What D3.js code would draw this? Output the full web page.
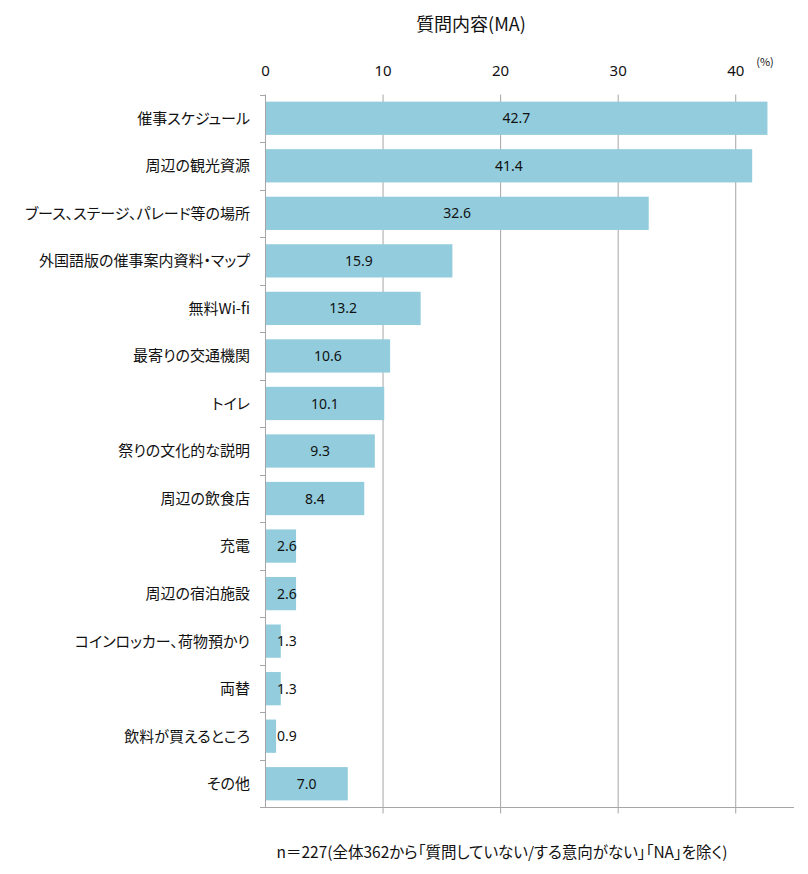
<!DOCTYPE html>
<html lang="ja">
<head>
<meta charset="UTF-8">
<title>質問内容(MA)</title>
<script src="https://d3js.org/d3.v7.min.js"></script>
<style>
  body { margin: 0; background: #fff; }
  text { font-family: "Noto Sans CJK JP", "Noto Sans", sans-serif; fill: #111; font-feature-settings: "palt"; }
</style>
</head>
<body>
<div id="chart"></div>
<script>
// data
const categories = [
  "催事スケジュール", "周辺の観光資源", "ブース、ステージ、パレード等の場所",
  "外国語版の催事案内資料・マップ", "無料Wi-fi", "最寄りの交通機関", "トイレ",
  "祭りの文化的な説明", "周辺の飲食店", "充電", "周辺の宿泊施設",
  "コインロッカー、荷物預かり", "両替", "飲料が買えるところ", "その他"
];
const values = [42.7, 41.4, 32.6, 15.9, 13.2, 10.6, 10.1, 9.3, 8.4, 2.6, 2.6, 1.3, 1.3, 0.9, 7.0];
const ticks = [0, 10, 20, 30, 40];

const W = 808, H = 874;
const svg = d3.select("#chart").append("svg")
  .attr("width", W).attr("height", H);

const x = d3.scaleLinear().domain([0, 45]).range([265.5, 794.5]);
const y = d3.scaleBand().domain(categories).range([94.5, 807.5]).paddingInner(0.3).paddingOuter(0.15);
const band = d3.scaleBand().domain(categories).range([94.5, 807.5]);

// title
svg.append("text")
  .attr("x", 471).attr("y", 31)
  .attr("text-anchor", "middle")
  .style("font-size", "18px")
  .text("質問内容(MA)");

// gridlines
svg.selectAll(".grid")
  .data(ticks.filter(d => d > 0))
  .enter().append("line")
  .attr("x1", d => x(d)).attr("x2", d => x(d))
  .attr("y1", 94.5).attr("y2", 813.5)
  .attr("stroke", "#a6a6a6");

// tick labels
svg.selectAll(".tick")
  .data(ticks)
  .enter().append("text")
  .attr("x", d => x(d)).attr("y", 76)
  .attr("text-anchor", "middle")
  .style("font-size", "15px")
  .style("font-family", "'Noto Sans', sans-serif")
  .text(d => d);

svg.append("text")
  .attr("x", 765).attr("y", 66)
  .attr("text-anchor", "middle")
  .style("font-size", "11px")
  .text("(%)");

// bars
svg.selectAll(".bar")
  .data(values)
  .enter().append("rect")
  .attr("x", x(0))
  .attr("y", (d, i) => y(categories[i]))
  .attr("width", d => x(d) - x(0))
  .attr("height", y.bandwidth())
  .attr("fill", "#93cddd");

// bar labels
svg.selectAll(".val")
  .data(values)
  .enter().append("text")
  .attr("x", d => Math.max((x(0) + x(d)) / 2, 287))
  .attr("y", (d, i) => y(categories[i]) + y.bandwidth() / 2)
  .attr("dy", "0.36em")
  .attr("text-anchor", "middle")
  .style("font-size", "14px")
  .style("font-family", "'Noto Sans', sans-serif")
  .text(d => d.toFixed(1));

// category axis
svg.append("line")
  .attr("x1", 265.5).attr("x2", 265.5)
  .attr("y1", 94.5).attr("y2", 807.5)
  .attr("stroke", "#a6a6a6");
svg.selectAll(".ctick")
  .data(categories.concat(["end"]))
  .enter().append("line")
  .attr("x1", 260).attr("x2", 265.5)
  .attr("y1", (d, i) => i < categories.length ? Math.round(band(d)) + 0.5 : 807.5)
  .attr("y2", (d, i) => i < categories.length ? Math.round(band(d)) + 0.5 : 807.5)
  .attr("stroke", "#a6a6a6");
svg.selectAll(".cat")
  .data(categories)
  .enter().append("text")
  .attr("x", 250)
  .attr("y", d => band(d) + band.bandwidth() / 2)
  .attr("dy", "0.36em")
  .attr("text-anchor", "end")
  .style("font-size", "15px")
  .text(d => d);

// bottom line
svg.append("line")
  .attr("x1", 260).attr("x2", 794)
  .attr("y1", 807.5).attr("y2", 807.5)
  .attr("stroke", "#a6a6a6");

// footnote
svg.append("text")
  .attr("x", 502).attr("y", 858)
  .attr("text-anchor", "middle")
  .style("font-size", "15.5px")
  .text("n＝227(全体362から「質問していない/する意向がない」「NA」を除く)");
</script>
</body>
</html>
